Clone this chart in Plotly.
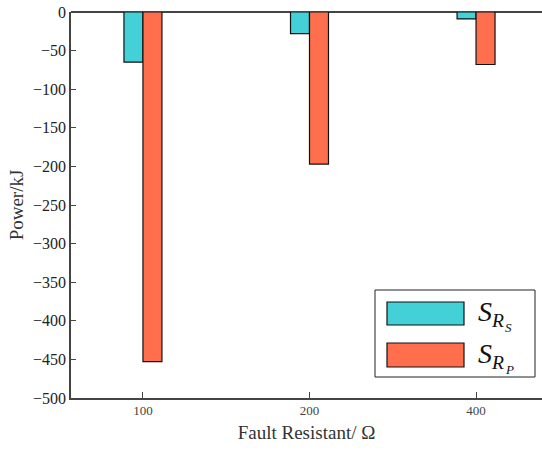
import plotly.graph_objects as go

# Fault resistance cases and the corresponding power values (kJ)
categories = ["100", "200", "400"]
s_rs = [-65, -28, -9]
s_rp = [-453, -197, -68]

cyan = "#43D1D7"
orange = "#FF6F4E"
serif = "Liberation Serif"

fig = go.Figure()
fig.add_trace(go.Bar(x=categories, y=s_rs, name="S_RS",
                     marker=dict(color=cyan, line=dict(color="#111", width=1.2))))
fig.add_trace(go.Bar(x=categories, y=s_rp, name="S_RP",
                     marker=dict(color=orange, line=dict(color="#111", width=1.2))))

# Paper-space coordinates for the boxed key
def px(x):
    return (x - 71) / 471

def py(y):
    return (398 - y) / 386

shapes = [
    dict(type="rect", xref="paper", yref="paper",
         x0=px(375), x1=px(535), y0=py(377), y1=py(290),
         line=dict(color="#222", width=1), fillcolor="white", layer="above"),
    dict(type="rect", xref="paper", yref="paper",
         x0=px(387), x1=px(464), y0=py(325), y1=py(302),
         line=dict(color="#111", width=1.2), fillcolor=cyan, layer="above"),
    dict(type="rect", xref="paper", yref="paper",
         x0=px(387), x1=px(464), y0=py(367), y1=py(343),
         line=dict(color="#111", width=1.2), fillcolor=orange, layer="above"),
]


def key_label(y, sub2):
    # main symbol with first subscript, then the second-level subscript
    return [
        dict(xref="paper", yref="paper", x=px(476), y=py(y), xanchor="left", yanchor="middle",
             text="<i>S</i><sub><i>R</i></sub>", showarrow=False,
             font=dict(family=serif, size=28, color="#111")),
        dict(xref="paper", yref="paper", x=px(503), y=py(y + 14), xanchor="left",
             yanchor="middle", text="<i>" + sub2 + "</i>", showarrow=False,
             font=dict(family=serif, size=13, color="#111")),
    ]


annotations = key_label(313, "S") + key_label(355, "P")

fig.update_layout(
    width=542, height=451,
    margin=dict(l=71, r=0, t=12, b=53),
    paper_bgcolor="white", plot_bgcolor="white",
    barmode="group", bargap=0.772, bargroupgap=0,
    showlegend=False,
    shapes=shapes, annotations=annotations,
    xaxis=dict(
        type="category", range=[-0.432, 2.396],
        showline=True, linecolor="#444", linewidth=1.5,
        ticks="inside", ticklen=6, tickcolor="#444",
        tickfont=dict(family=serif, size=13, color="#444"),
        title=dict(text="Fault Resistant/ Ω", font=dict(family=serif, size=19, color="#333"),
                   standoff=8),
        showgrid=False,
    ),
    yaxis=dict(
        range=[-500, 0], dtick=50,
        showline=True, linecolor="#444", linewidth=1.5,
        ticks="inside", ticklen=5, tickcolor="#444",
        tickfont=dict(family=serif, size=16, color="#222"),
        title=dict(text="Power/kJ", font=dict(family=serif, size=19, color="#333"),
                   standoff=4),
        showgrid=False,
        zeroline=True, zerolinecolor="#444", zerolinewidth=2,
    ),
)

fig.write_html("out.html")
